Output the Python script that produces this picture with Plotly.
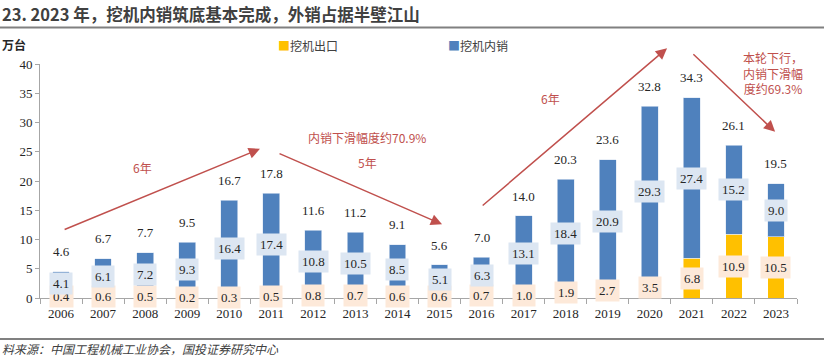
import plotly.graph_objects as go

years = [str(y) for y in range(2006, 2024)]
export = [0.4, 0.6, 0.5, 0.2, 0.3, 0.5, 0.8, 0.7, 0.6, 0.6, 0.7, 1.0, 1.9, 2.7, 3.5, 6.8, 10.9, 10.5]
domestic = [4.1, 6.1, 7.2, 9.3, 16.4, 17.4, 10.8, 10.5, 8.5, 5.1, 6.3, 13.1, 18.4, 20.9, 29.3, 27.4, 15.2, 9.0]
total = [4.6, 6.7, 7.7, 9.5, 16.7, 17.8, 11.6, 11.2, 9.1, 5.6, 7.0, 14.0, 20.3, 23.6, 32.8, 34.3, 26.1, 19.5]

W, H = 824, 357
ML, MR, MT, MB = 40, 27, 63.5, 59
PW, PH = W - ML - MR, H - MT - MB

def px(x):
    return (x - ML) / PW

def py(y):
    return (H - MB - y) / PH

BLUE = "#4F81BD"
YELLOW = "#FFC000"
RED = "#C0504D"
SERIF = "Liberation Serif, Times New Roman, serif"
CJK = "Noto Sans CJK SC, sans-serif"

fig = go.Figure()
fig.add_bar(x=years, y=export, name="挖机出口", marker=dict(color=YELLOW, line=dict(width=0.8, color="rgba(255,255,255,0.6)")), width=0.4)
fig.add_bar(x=years, y=domestic, name="挖机内销", marker=dict(color=BLUE, line=dict(width=0.8, color="rgba(220,230,242,0.8)")), width=0.4)

ann = []
for i, y in enumerate(years):
    ann.append(dict(x=i, y=export[i] / 2, xref="x", yref="y", text=f"{export[i]:.1f}", showarrow=False,
                    bgcolor="#FDE9D9", borderpad=3, font=dict(family=SERIF, size=13, color="#262626")))
    ann.append(dict(x=i, y=export[i] + domestic[i] / 2, xref="x", yref="y", text=f"{domestic[i]:.1f}", showarrow=False,
                    bgcolor="#DCE6F2", borderpad=3, font=dict(family=SERIF, size=13, color="#262626")))
    ann.append(dict(x=i, y=total[i], xref="x", yref="y", yshift=20, text=f"{total[i]:.1f}", showarrow=False,
                    font=dict(family=SERIF, size=13, color="#262626")))

arrows = [
    ((0.05, 11.6), (4.73, 25.5)),
    ((5.16, 24.8), (9.06, 12.6)),
    ((9.99, 15.6), (14.41, 42.7)),
    ((15.0, 41.9), (16.98, 28.4)),
]
for (tx, ty), (hx, hy) in arrows:
    ann.append(dict(x=hx, y=hy, ax=tx, ay=ty, xref="x", yref="y", axref="x", ayref="y",
                    showarrow=True, arrowhead=2, arrowsize=1.5, arrowwidth=1.5,
                    arrowcolor=RED, text=""))

red_texts = [
    (142, 167, "6年"),
    (367, 137, "内销下滑幅度约70.9%"),
    (367, 162, "5年"),
    (550, 98, "6年"),
    (773, 73, "本轮下行，<br>内销下滑幅<br>度约69.3%"),
]
for x, y, t in red_texts:
    ann.append(dict(x=px(x), y=py(y), xref="paper", yref="paper", text=t, showarrow=False,
                    xanchor="center", yanchor="middle", align="center",
                    font=dict(family=CJK, size=12, color=RED)))

# title, unit, legend, source
ann.append(dict(x=px(0), y=py(13), xref="paper", yref="paper", xanchor="left", yanchor="middle",
                text="<b>23. 2023 年，挖机内销筑底基本完成，外销占据半壁江山</b>", showarrow=False,
                font=dict(family=CJK, size=16.5, color="#404040")))
ann.append(dict(x=px(0), y=py(44), xref="paper", yref="paper", xanchor="left", yanchor="middle",
                text="<b>万台</b>", showarrow=False, font=dict(family=CJK, size=12, color="#262626")))
ann.append(dict(x=px(276), y=py(45), xref="paper", yref="paper", xanchor="left", yanchor="middle",
                text=f"<span style='color:{YELLOW}'>■</span>挖机出口", showarrow=False,
                font=dict(family=CJK, size=12, color="#404040")))
ann.append(dict(x=px(446), y=py(45), xref="paper", yref="paper", xanchor="left", yanchor="middle",
                text=f"<span style='color:{BLUE}'>■</span>挖机内销", showarrow=False,
                font=dict(family=CJK, size=12, color="#404040")))
ann.append(dict(x=px(0), y=py(349), xref="paper", yref="paper", xanchor="left", yanchor="middle",
                text="<i>料来源：中国工程机械工业协会，国投证券研究中心</i>", showarrow=False,
                font=dict(family=CJK, size=12, color="#404040")))

shapes = [
    dict(type="line", xref="paper", yref="paper", x0=px(0), x1=px(W), y0=py(27), y1=py(27),
         line=dict(color="#808080", width=2)),
    dict(type="line", xref="paper", yref="paper", x0=px(0), x1=px(W), y0=py(339), y1=py(339),
         line=dict(color="#808080", width=2)),
]

fig.update_layout(
    width=W, height=H,
    margin=dict(l=ML, r=MR, t=MT, b=MB),
    barmode="stack",
    showlegend=False,
    plot_bgcolor="white", paper_bgcolor="white",
    annotations=ann, shapes=shapes,
    xaxis=dict(type="category", showgrid=False, showline=True, linecolor="#A6A6A6", linewidth=1,
               ticks="outside", tickson="boundaries", ticklen=5, tickcolor="#A6A6A6",
               ticklabelstandoff=3,
               tickfont=dict(family=SERIF, size=13, color="#262626"), range=[-0.5, 17.5]),
    yaxis=dict(range=[0, 40], dtick=5, showgrid=False, showline=True, linecolor="#A6A6A6", linewidth=1,
               ticks="outside", ticklen=4, tickcolor="#A6A6A6", zeroline=False,
               tickfont=dict(family=SERIF, size=13, color="#262626")),
)

fig.write_html("out.html", config={"displayModeBar": False},
               post_script="document.body.style.margin='0';")
